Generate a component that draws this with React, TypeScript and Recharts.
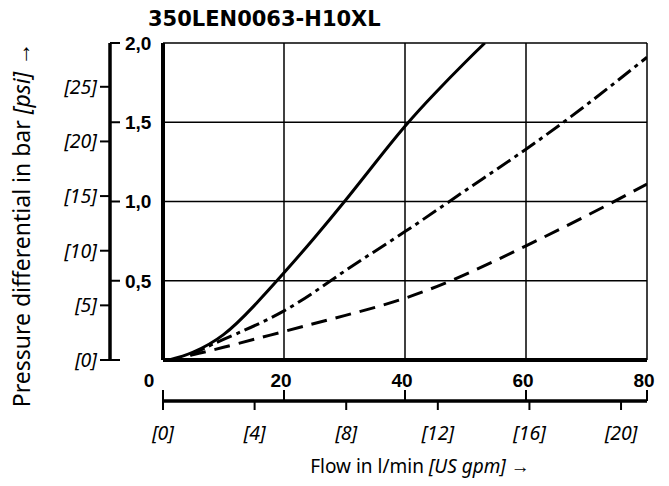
import React from 'react';
import { LineChart, Line, XAxis, YAxis, CartesianGrid, ReferenceLine } from 'recharts';

const PSI_PER_BAR = 14.5038;
const LPM_PER_GPM = 3.78541;

const chartTitle = '350LEN0063-H10XL';
const flowTicks = [0, 20, 40, 60, 80];
const pressureTicks = [0, 0.5, 1, 1.5, 2];
const psiTicks = [0, 5, 10, 15, 20, 25];
const gpmTicks = [0, 4, 8, 12, 16, 20];

// flow q in l/min, pressure differential p in bar
const solidCurve = [
  { q: 1, p: 0 },
  { q: 5, p: 0.05 },
  { q: 10, p: 0.16 },
  { q: 15, p: 0.34 },
  { q: 20, p: 0.55 },
  { q: 25, p: 0.77 },
  { q: 30, p: 1.0 },
  { q: 35, p: 1.24 },
  { q: 40, p: 1.475 },
  { q: 45, p: 1.685 },
  { q: 50, p: 1.88 },
  { q: 53.2, p: 2.0 },
];
const dashDotCurve = [
  { q: 4.5, p: 0.03 },
  { q: 10, p: 0.13 },
  { q: 20, p: 0.31 },
  { q: 30, p: 0.56 },
  { q: 40, p: 0.81 },
  { q: 50, p: 1.07 },
  { q: 60, p: 1.33 },
  { q: 70, p: 1.61 },
  { q: 80, p: 1.91 },
];
const dashedCurve = [
  { q: 4.5, p: 0.03 },
  { q: 10, p: 0.08 },
  { q: 20, p: 0.18 },
  { q: 30, p: 0.28 },
  { q: 40, p: 0.39 },
  { q: 50, p: 0.54 },
  { q: 60, p: 0.72 },
  { q: 70, p: 0.91 },
  { q: 80, p: 1.11 },
];

// flow axis ticks: l/min ticks plus US gpm ticks expressed in l/min
const gpmInLpm = gpmTicks.map((g) => g * LPM_PER_GPM);
const xAxisTicks = Array.from(new Set([...flowTicks, ...gpmInLpm])).sort((a, b) => a - b);

const CHART_W = 669;
const CHART_H = 486;
const MARGIN = { top: 43, right: 22, bottom: 0, left: 0 };
const PSI_AXIS_W = 110;
const BAR_AXIS_W = 53;
const X_AXIS_H = 126;
const PLOT_W = CHART_W - MARGIN.left - MARGIN.right - PSI_AXIS_W - BAR_AXIS_W;

const BOLD_FONT = "'Liberation Sans Narrow', 'Arial Narrow', 'Liberation Sans', Arial, sans-serif";
const TEXT_FONT = "'Noto Sans', 'Open Sans', sans-serif";

const fmtBar = (v: number) => v.toFixed(1).replace('.', ',');

const BarTick = (props: any) => {
  const { x, y, payload } = props;
  return (
    <g>
      <line x1={x - 53} x2={x - 43} y1={y} y2={y} stroke="#000" strokeWidth={2} />
      {payload.value !== 0 && (
        <text x={x - 38} y={y} dy="0.36em" textAnchor="start" fontFamily={BOLD_FONT} fontWeight={700} fontSize={19} fill="#000">
          {fmtBar(payload.value)}
        </text>
      )}
    </g>
  );
};

const PsiTick = (props: any) => {
  const { x, y, payload } = props;
  return (
    <text x={x} y={y} dy="0.36em" textAnchor="end" fontFamily={TEXT_FONT} fontStyle="italic" fontSize={19.5} fill="#000">
      {`[${payload.value}]`}
    </text>
  );
};

const FlowTick = (props: any) => {
  const { x, y, payload } = props;
  const v: number = payload.value;
  const isFlow = flowTicks.includes(v);
  const gIdx = gpmInLpm.findIndex((g) => Math.abs(g - v) < 1e-6);
  return (
    <g>
      {v === 0 && (
        <line x1={x} x2={x + PLOT_W} y1={y + 41} y2={y + 41} stroke="#000" strokeWidth={3.5} />
      )}
      {isFlow && (
        <>
          <text x={x + (v === 0 ? -14 : -3)} y={y + 20} dy="0.36em" textAnchor="middle" fontFamily={BOLD_FONT} fontWeight={700} fontSize={19} fill="#000">
            {v}
          </text>
          <line x1={x} x2={x} y1={y + 30} y2={y + 41} stroke="#000" strokeWidth={2} />
        </>
      )}
      {gIdx >= 0 && (
        <>
          <line x1={x} x2={x} y1={y + 41} y2={y + 50} stroke="#000" strokeWidth={2} />
          <text x={x} y={y + 73} dy="0.36em" textAnchor="middle" fontFamily={TEXT_FONT} fontStyle="italic" fontSize={19.5} fill="#000">
            {`[${gpmTicks[gIdx]}]`}
          </text>
        </>
      )}
    </g>
  );
};

export default function App() {
  return (
    <div style={{ position: 'absolute', left: 0, top: 0, width: CHART_W, height: CHART_H, background: '#fff' }}>
      <LineChart width={CHART_W} height={CHART_H} margin={MARGIN}>
        <CartesianGrid
          xAxisId="lpm"
          yAxisId="bar"
          vertical={false}
          stroke="#000"
          strokeWidth={1.5}
          strokeOpacity={1}
        />
        {flowTicks.slice(1).map((t) => (
          <ReferenceLine key={t} xAxisId="lpm" yAxisId="bar" x={t} stroke="#000" strokeWidth={1.5} />
        ))}
        <XAxis
          xAxisId="lpm"
          type="number"
          dataKey="q"
          domain={[0, 80]}
          ticks={xAxisTicks}
          allowDataOverflow
          height={X_AXIS_H}
          axisLine={{ stroke: '#000', strokeWidth: 4 }}
          tickLine={false}
          tickSize={0}
          tickMargin={0}
          tick={<FlowTick />}
          interval={0}
        />
        <YAxis
          yAxisId="bar"
          type="number"
          domain={[0, 2]}
          ticks={pressureTicks}
          allowDataOverflow
          width={BAR_AXIS_W}
          axisLine={{ stroke: '#000', strokeWidth: 4 }}
          tickLine={false}
          tickSize={0}
          tickMargin={0}
          tick={<BarTick />}
          interval={0}
        />
        <YAxis
          yAxisId="psi"
          type="number"
          domain={[0, 2 * PSI_PER_BAR]}
          ticks={psiTicks}
          allowDataOverflow
          width={PSI_AXIS_W}
          axisLine={{ stroke: '#000', strokeWidth: 3.5 }}
          tickLine={{ stroke: '#000', strokeWidth: 2 }}
          tickSize={10}
          tickMargin={3}
          tick={<PsiTick />}
          interval={0}
        />
        <Line xAxisId="lpm" yAxisId="bar" data={solidCurve} dataKey="p" type="natural" stroke="#000" strokeWidth={3} dot={false} isAnimationActive={false} />
        <Line xAxisId="lpm" yAxisId="bar" data={dashDotCurve} dataKey="p" type="natural" stroke="#000" strokeWidth={3} strokeDasharray="16 5 4 5" dot={false} isAnimationActive={false} />
        <Line xAxisId="lpm" yAxisId="bar" data={dashedCurve} dataKey="p" type="natural" stroke="#000" strokeWidth={3} strokeDasharray="16 9" dot={false} isAnimationActive={false} />
        <text x={148} y={26} fontFamily="'DejaVu Sans', sans-serif" fontWeight={700} fontSize={21} fill="#000">
          {chartTitle}
        </text>
        <text x={420} y={473} textAnchor="middle" fontFamily={TEXT_FONT} fontSize={19} fill="#000">
          Flow in l/min <tspan fontStyle="italic">[US gpm]</tspan> →
        </text>
        <text transform="translate(30, 225) rotate(-90)" textAnchor="middle" fontFamily={TEXT_FONT} fontSize={23} fill="#000">
          Pressure differential in bar <tspan fontStyle="italic">[psi]</tspan> →
        </text>
      </LineChart>
    </div>
  );
}
